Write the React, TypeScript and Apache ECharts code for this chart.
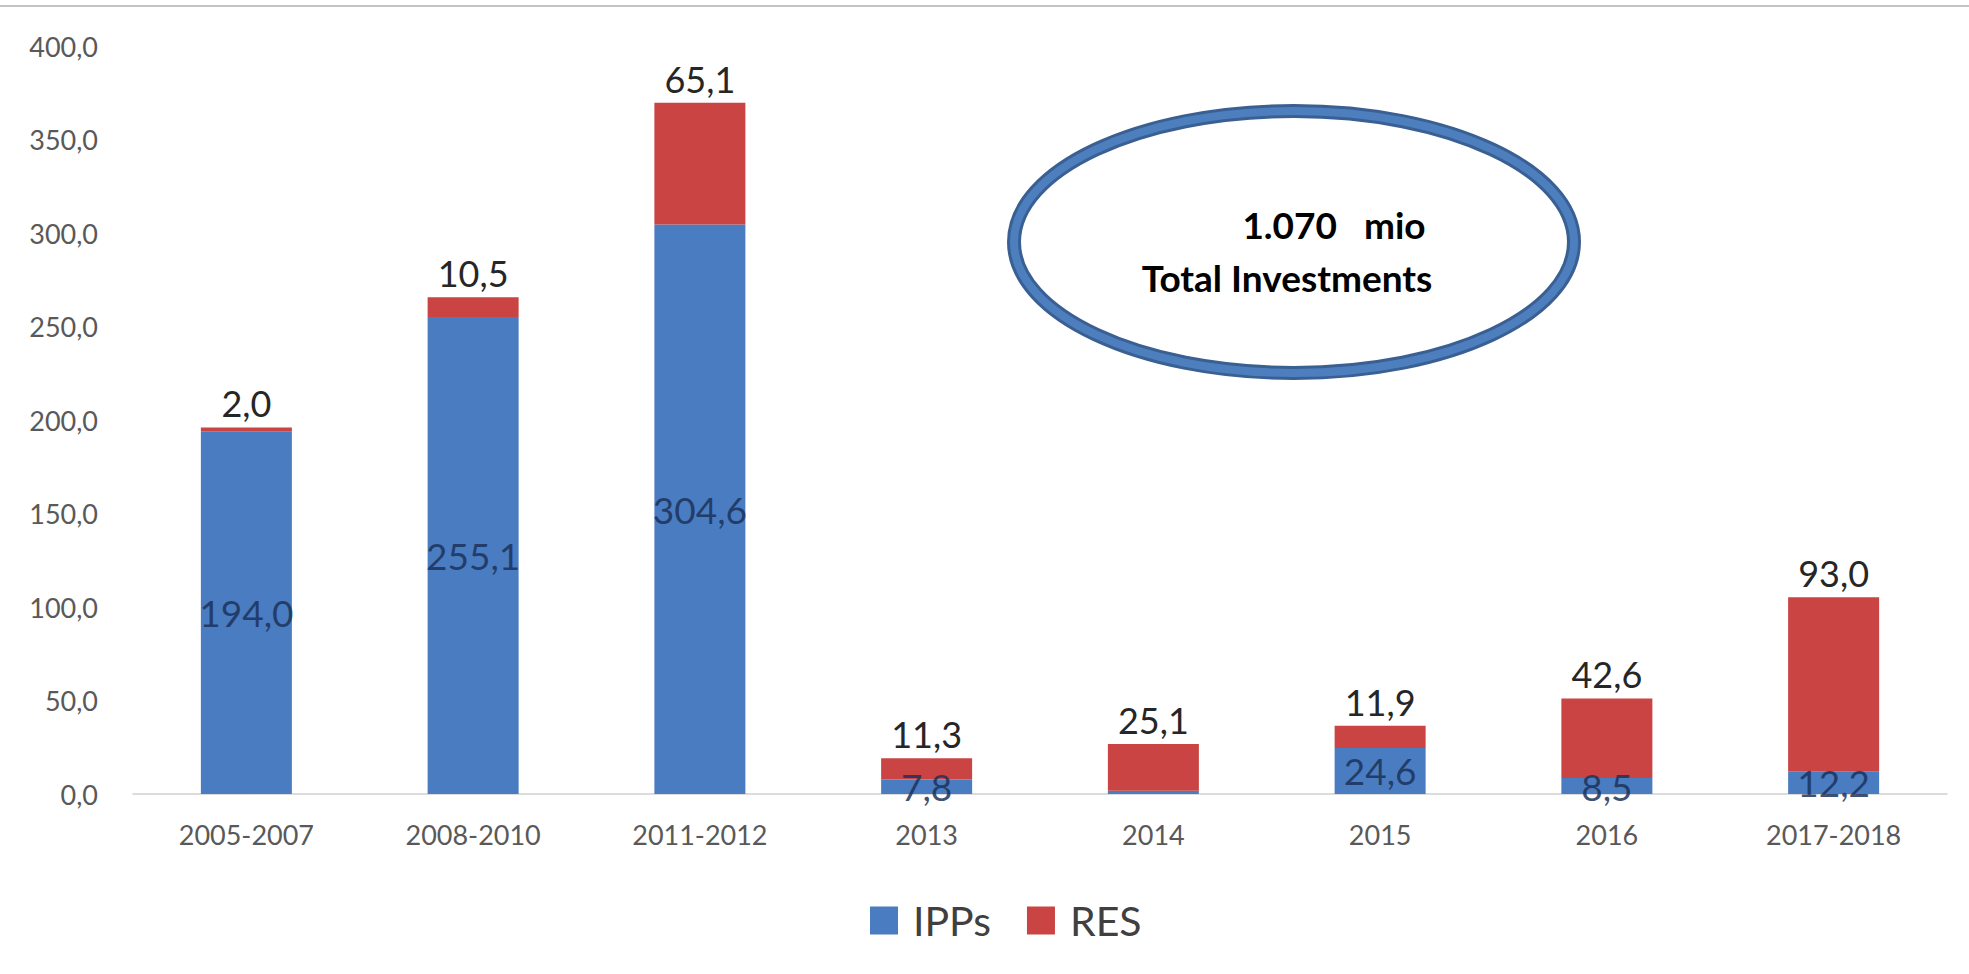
import React, { useEffect, useRef } from "react";
import * as echarts from "echarts";

const categories = ["2005-2007", "2008-2010", "2011-2012", "2013", "2014", "2015", "2016", "2017-2018"];
const ippValues = [194.0, 255.1, 304.6, 7.8, 1.7, 24.6, 8.5, 12.2];
const resValues = [2.0, 10.5, 65.1, 11.3, 25.1, 11.9, 42.6, 93.0];
const yTicks = { min: 0, max: 400, interval: 50 };
const seriesNames = ["IPPs", "RES"];
const totalText = ["1.070   mio", "Total Investments"];

const FONT = "Lato, 'Liberation Sans', sans-serif";
const fmt = (v: number) => v.toFixed(1).replace(".", ",");

export default function App() {
  const ref = useRef<HTMLDivElement>(null);
  useEffect(() => {
    document.body.style.margin = "0";
    const chart = echarts.init(ref.current!, null, { renderer: "svg" });
    chart.setOption({
      animation: false,
      backgroundColor: "#ffffff",
      grid: { left: 133, right: 22, top: 46, bottom: 180, outerBoundsMode: "none" },
      legend: {
        data: seriesNames,
        left: 865,
        top: 895,
        icon: "rect",
        itemWidth: 28,
        itemHeight: 28,
        itemGap: 36,
        textStyle: { fontFamily: FONT, fontSize: 41, color: "#404040", padding: [0, 0, 0, 10] },
      },
      xAxis: {
        type: "category",
        data: categories,
        axisLine: { lineStyle: { color: "#d0d0d0", width: 1.5 } },
        axisTick: { show: false },
        axisLabel: { fontFamily: FONT, fontSize: 27, color: "#595959", margin: 27 },
      },
      yAxis: {
        type: "value",
        min: yTicks.min,
        max: yTicks.max,
        interval: yTicks.interval,
        axisLine: { show: false },
        axisTick: { show: false },
        splitLine: { show: false },
        axisLabel: {
          fontFamily: FONT,
          fontSize: 27,
          color: "#595959",
          margin: 35,
          formatter: (v: number) => fmt(v),
        },
      },
      series: [
        {
          name: seriesNames[0],
          type: "bar",
          stack: "total",
          barWidth: 91,
          data: ippValues,
          itemStyle: { color: "#4a7cc1" },
          label: {
            show: true,
            position: "inside",
            fontFamily: FONT,
            fontSize: 37,
            color: "rgba(28,50,90,0.85)",
            formatter: (p: any) => (p.value < 2 ? "" : fmt(p.value)),
          },
        },
        {
          name: seriesNames[1],
          type: "bar",
          stack: "total",
          barWidth: 91,
          data: resValues,
          itemStyle: { color: "#c94442" },
          label: {
            show: true,
            position: "top",
            distance: 6,
            fontFamily: FONT,
            fontSize: 36,
            color: "#262626",
            formatter: (p: any) => fmt(p.value),
          },
        },
      ],
      graphic: [
        {
          type: "line",
          shape: { x1: 0, y1: 6, x2: 1969, y2: 6 },
          style: { stroke: "#c4c4c4", lineWidth: 2 },
        },
        {
          type: "ellipse",
          shape: { cx: 1294, cy: 242, rx: 280, ry: 131 },
          style: { fill: "#ffffff", stroke: "#3a5f92", lineWidth: 14 },
          z: 10,
        },
        {
          type: "ellipse",
          shape: { cx: 1294, cy: 242, rx: 280, ry: 131 },
          style: { fill: "none", stroke: "#4d7fbf", lineWidth: 8 },
          z: 11,
        },
        {
          type: "text",
          x: 1334,
          y: 224,
          style: {
            text: totalText[0],
            font: `bold 37px ${FONT}`,
            fill: "#000000",
            textAlign: "center",
            textVerticalAlign: "middle",
          },
          z: 12,
        },
        {
          type: "text",
          x: 1287,
          y: 277,
          style: {
            text: totalText[1],
            font: `bold 37px ${FONT}`,
            fill: "#000000",
            textAlign: "center",
            textVerticalAlign: "middle",
          },
          z: 12,
        },
      ],
    });
    return () => chart.dispose();
  }, []);
  return <div ref={ref} style={{ width: 1969, height: 974 }} />;
}
